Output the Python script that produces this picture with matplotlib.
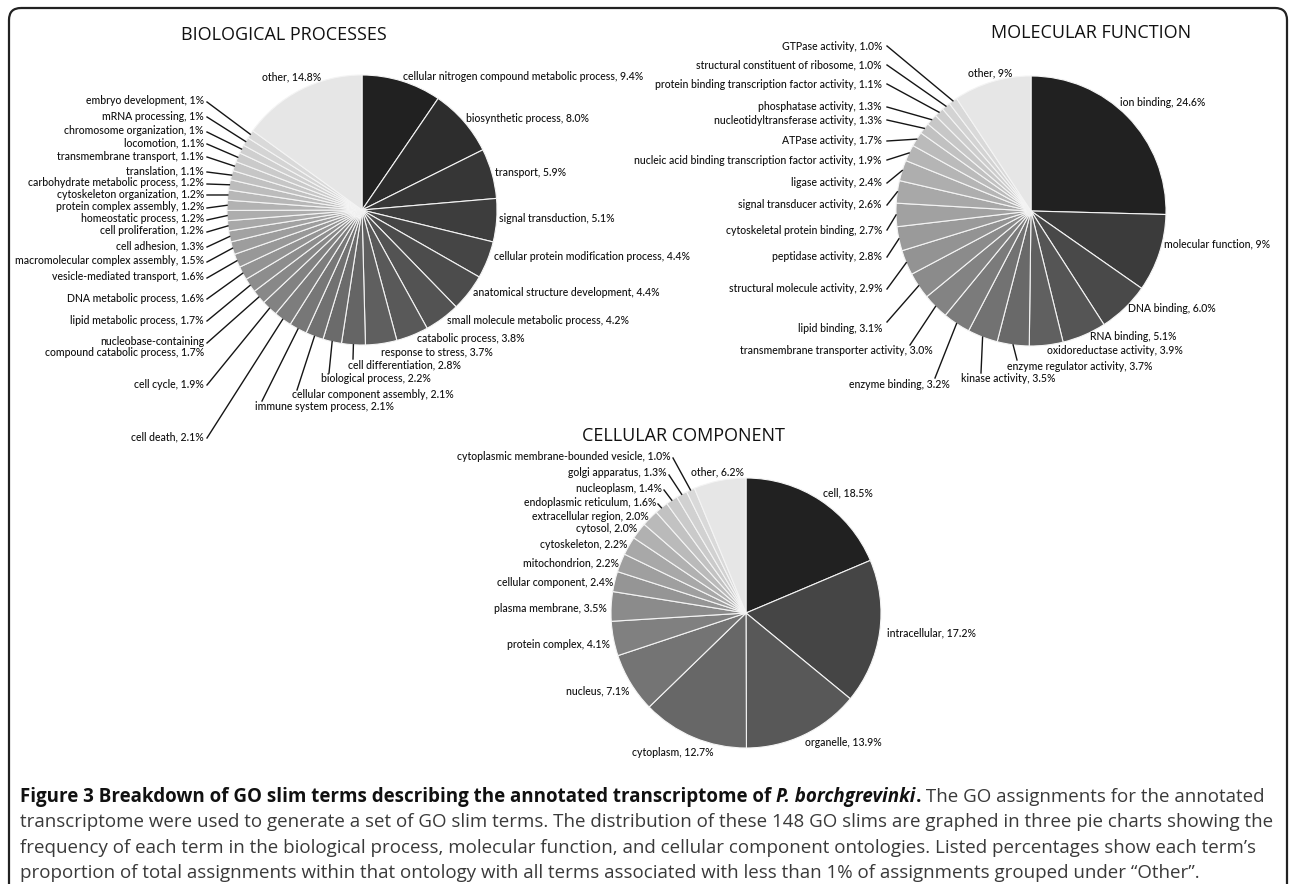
import numpy as np
import matplotlib
matplotlib.use("Agg")
import matplotlib.pyplot as plt
from matplotlib.patches import FancyBboxPatch

W, H = 1290, 884

# ---- data ----
bp_names = ["cellular nitrogen compound metabolic process", "biosynthetic process", "transport",
            "signal transduction", "cellular protein modification process",
            "anatomical structure development", "small molecule metabolic process",
            "catabolic process", "response to stress", "cell differentiation",
            "biological process", "cellular component assembly", "immune system process",
            "cell death", "cell cycle", "nucleobase-containing\ncompound catabolic process",
            "lipid metabolic process", "DNA metabolic process", "vesicle-mediated transport",
            "macromolecular complex assembly", "cell adhesion", "cell proliferation",
            "homeostatic process", "protein complex assembly", "cytoskeleton organization",
            "carbohydrate metabolic process", "translation", "transmembrane transport",
            "locomotion", "chromosome organization", "mRNA processing", "embryo development",
            "other"]
bp_pct = ["9.4", "8.0", "5.9", "5.1", "4.4", "4.4", "4.2", "3.8", "3.7", "2.8", "2.2", "2.1",
          "2.1", "2.1", "1.9", "1.7", "1.7", "1.6", "1.6", "1.5", "1.3", "1.2", "1.2", "1.2",
          "1.2", "1.2", "1.1", "1.1", "1.1", "1", "1", "1", "14.8"]

mf_names = ["ion binding", "molecular function", "DNA binding", "RNA binding",
            "oxidoreductase activity", "enzyme regulator activity", "kinase activity",
            "enzyme binding", "transmembrane transporter activity", "lipid binding",
            "structural molecule activity", "peptidase activity", "cytoskeletal protein binding",
            "signal transducer activity", "ligase activity",
            "nucleic acid binding transcription factor activity", "ATPase activity",
            "nucleotidyltransferase activity", "phosphatase activity",
            "protein binding transcription factor activity", "structural constituent of ribosome",
            "GTPase activity", "other"]
mf_pct = ["24.6", "9", "6.0", "5.1", "3.9", "3.7", "3.5", "3.2", "3.0", "3.1", "2.9", "2.8",
          "2.7", "2.6", "2.4", "1.9", "1.7", "1.3", "1.3", "1.1", "1.0", "1.0", "9"]

cc_names = ["cell", "intracellular", "organelle", "cytoplasm", "nucleus", "protein complex",
            "plasma membrane", "cellular component", "mitochondrion", "cytoskeleton", "cytosol",
            "extracellular region", "endoplasmic reticulum", "nucleoplasm", "golgi apparatus",
            "cytoplasmic membrane-bounded vesicle", "other"]
cc_pct = ["18.5", "17.2", "13.9", "12.7", "7.1", "4.1", "3.5", "2.4", "2.2", "2.2", "2.0",
          "2.0", "1.6", "1.4", "1.3", "1.0", "6.2"]

# ---- layout (pixels) ----
# label positions (x, y, ha) and optional leader-line end points
bp_text = [(403, 77, 'left'), (466, 118, 'left'), (495, 172, 'left'), (499, 219, 'left'),
           (494, 257, 'left'), (473, 293, 'left'), (447, 320, 'left'), (417, 338, 'left'),
           (381, 352, 'left'), (348, 365, 'left'), (321, 379, 'left'), (292, 394, 'left'),
           (255, 407, 'left'), (204, 437, 'right'), (204, 384, 'right'), (204, 347, 'right'),
           (204, 320, 'right'), (204, 298, 'right'), (204, 277, 'right'), (204, 261, 'right'),
           (204, 246, 'right'), (204, 231, 'right'), (204, 219, 'right'), (204, 207, 'right'),
           (204, 194, 'right'), (204, 183, 'right'), (204, 171, 'right'), (204, 156, 'right'),
           (204, 143, 'right'), (204, 131, 'right'), (204, 116, 'right'), (204, 101, 'right'),
           (321, 77, 'right')]
bp_anchor = [None] * 9 + [(353, 359), (329, 373), (297, 390), (262, 401)] + \
            [(207, 438), (207, 385), (207, 343)] + [(207, y + 1) for _, y, _ in bp_text[16:32]] + [None]

mf_text = [(1120, 102, 'left'), (1164, 244, 'left'), (1128, 308, 'left'), (1090, 337, 'left'),
           (1047, 351, 'left'), (1007, 366, 'left'), (961, 379, 'left'), (950, 385, 'right'),
           (933, 351, 'right'), (883, 328, 'right'), (883, 289, 'right'), (882, 257, 'right'),
           (882, 230, 'right'), (882, 205, 'right'), (882, 183, 'right'), (882, 160, 'right'),
           (882, 141, 'right'), (882, 120, 'right'), (882, 107, 'right'), (882, 84, 'right'),
           (882, 65, 'right'), (882, 46, 'right'), (1012, 73, 'right')]
mf_anchor = [None] * 5 + [(1017, 360), (981, 373), (935, 378), (910, 345), (887, 322)] + \
            [(887, y) for _, y, _ in mf_text[10:22]] + [None]

cc_text = [(823, 493, 'left'), (887, 633, 'left'), (805, 743, 'left'), (632, 752, 'left'),
           (630, 691, 'right'), (610, 644, 'right'), (607, 609, 'right'), (613, 583, 'right'),
           (619, 563, 'right'), (628, 544, 'right'), (637, 529, 'right'), (649, 516, 'right'),
           (656, 502, 'right'), (662, 488, 'right'), (667, 473, 'right'), (671, 456, 'right'),
           (691, 472, 'left')]
cc_anchor = [None] * 12 + [(658, 504), (664, 490), (669, 475), (673, 458), None]

label_font = ['Lato', 'DejaVu Sans']
title_font = ['Open Sans', 'DejaVu Sans']

fig = plt.figure(figsize=(W / 100, H / 100), dpi=100)
# overlay axes in pixel units for text, leader lines and the frame
ax = fig.add_axes([0, 0, 1, 1])
ax.set_xlim(0, W)
ax.set_ylim(H, 0)
ax.axis('off')
ax.set_zorder(5)

# outer frame
ax.add_patch(FancyBboxPatch((9, 8), 1278, 890, boxstyle="round,pad=0,rounding_size=12",
                            fill=False, ec='#222222', lw=1.6))


def draw_pie(pct, names, texts, anchors, cx, cy, r, gamma):
    vals = np.array([float(p) for p in pct])
    n = len(vals)
    greys = 0.13 + 0.72 * np.linspace(0, 1, n - 1) ** gamma
    colors = [str(g) for g in greys] + ['0.9']
    pax = fig.add_axes([(cx - r) / W, 1 - (cy + r) / H, 2 * r / W, 2 * r / H])
    pax.pie(vals, colors=colors, startangle=90, counterclock=False, radius=1,
            wedgeprops=dict(edgecolor='#f4f4f4', linewidth=0.8))
    pax.set_xlim(-1, 1)
    pax.set_ylim(-1, 1)
    pax.axis('off')
    mids = (np.cumsum(vals) - vals / 2) / vals.sum() * 2 * np.pi
    for i in range(n):
        x, y, ha = texts[i]
        ax.text(x, y, f"{names[i]}, {pct[i]}%", ha=ha, va='center', fontsize=7.6,
                family=label_font, weight='medium', color='#111111',
                multialignment=ha, linespacing=1.0)
        if anchors[i] is not None:
            ex = cx + r * np.sin(mids[i])
            ey = cy - r * np.cos(mids[i])
            ax.plot([anchors[i][0], ex], [anchors[i][1], ey], color='#151515', lw=1.0)


draw_pie(bp_pct, bp_names, bp_text, bp_anchor, 362, 210, 135, 0.8)
draw_pie(mf_pct, mf_names, mf_text, mf_anchor, 1031, 211, 135, 0.65)
draw_pie(cc_pct, cc_names, cc_text, cc_anchor, 746, 613, 135, 0.6)

ax.text(284, 35, "BIOLOGICAL PROCESSES", ha='center', va='center', fontsize=13,
        family=title_font, color='#111111')
ax.text(1091, 33, "MOLECULAR FUNCTION", ha='center', va='center', fontsize=13,
        family=title_font, color='#111111')
ax.text(683, 436, "CELLULAR COMPONENT", ha='center', va='center', fontsize=13,
        family=title_font, color='#111111')

# ---- caption ----
cap_font = ['Open Sans', 'DejaVu Sans']
cap_size = 13.5
renderer = fig.canvas.get_renderer()


def put(x, y, s, **kw):
    t = ax.text(x, y, s, ha='left', va='center', fontsize=cap_size, family=cap_font, **kw)
    bb = t.get_window_extent(renderer=renderer)
    return x + bb.width


bold = dict(weight='bold', color='#111111')
reg = dict(color='#3a3a3a')
x = put(20, 797, "Figure 3 Breakdown of GO slim terms describing the annotated transcriptome of ", **bold)
x = put(x, 797, "P. borchgrevinki", style='italic', **bold)
x = put(x, 797, ".", **bold)
put(x, 797, " The GO assignments for the annotated", **reg)
put(20, 822, "transcriptome were used to generate a set of GO slim terms. The distribution of these "
             "148 GO slims are graphed in three pie charts showing the", **reg)
put(20, 848, "frequency of each term in the biological process, molecular function, and cellular "
             "component ontologies. Listed percentages show each term\u2019s", **reg)
put(20, 873, "proportion of total assignments within that ontology with all terms associated with "
             "less than 1% of assignments grouped under \u201cOther\u201d.", **reg)

fig.savefig("out.png", dpi=100)
